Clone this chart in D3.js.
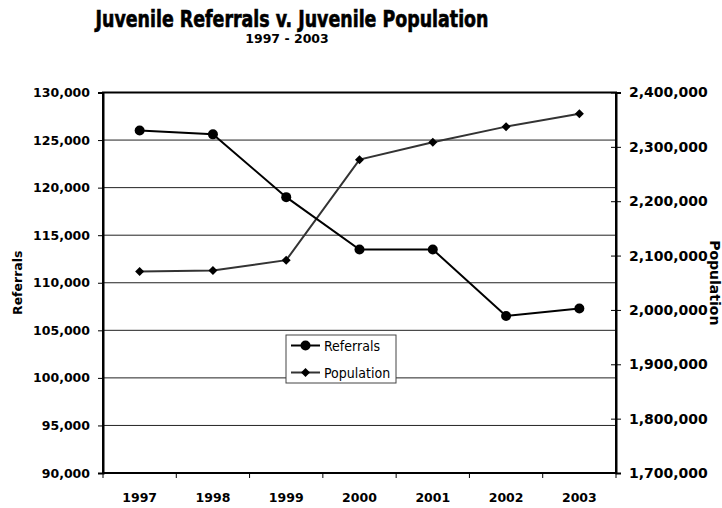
<!DOCTYPE html>
<html>
<head>
<meta charset="utf-8">
<script src="https://cdn.jsdelivr.net/npm/d3@7"></script>
<style>
  html, body { margin: 0; padding: 0; background: #fff; }
  svg { display: block; }
  .tick text { font-family: "DejaVu Sans", Verdana, sans-serif; font-weight: bold; fill: #000; }
</style>
</head>
<body>
<svg id="chart" width="722" height="508"></svg>
<script>
// Juvenile referrals and population, 1997-2003
const years = ["1997", "1998", "1999", "2000", "2001", "2002", "2003"];
const referrals = [126000, 125600, 119000, 113500, 113500, 106500, 107300];
const population = [2070600, 2072400, 2091500, 2276500, 2308400, 2337200, 2361100];
const referralTicks = [90000, 95000, 100000, 105000, 110000, 115000, 120000, 125000, 130000];
const populationTicks = [1700000, 1800000, 1900000, 2000000, 2100000, 2200000, 2300000, 2400000];

const svg = d3.select("#chart");
const plot = { left: 103, right: 616, top: 92.5, bottom: 473 };

const x = d3.scaleBand().domain(years).range([plot.left, plot.right]);
const xc = d => x(d) + x.bandwidth() / 2;
const yL = d3.scaleLinear().domain([90000, 130000]).range([plot.bottom, plot.top]);
const yR = d3.scaleLinear().domain([1700000, 2400000]).range([plot.bottom, plot.top]);
const fmt = d3.format(",");

const boldSans = "'DejaVu Sans', Verdana, sans-serif";
const condSans = "'DejaVu Sans Condensed', 'DejaVu Sans', sans-serif";

// Titles
svg.append("text")
  .attr("x", 292).attr("y", 27)
  .attr("text-anchor", "middle")
  .attr("textLength", 393).attr("lengthAdjust", "spacingAndGlyphs")
  .attr("stroke", "#000").attr("stroke-width", 0.6)
  .style("font-family", condSans)
  .style("font-weight", "bold").style("font-size", "22.5px")
  .text("Juvenile Referrals v. Juvenile Population");
svg.append("text")
  .attr("x", 287).attr("y", 42.5)
  .attr("text-anchor", "middle")
  .style("font-family", boldSans)
  .style("font-weight", "bold").style("font-size", "12.5px")
  .text("1997 - 2003");

// Horizontal gridlines
svg.append("g")
  .selectAll("line")
  .data(referralTicks.filter(t => t > 90000 && t < 130000))
  .join("line")
  .attr("x1", plot.left).attr("x2", plot.right)
  .attr("y1", d => yL(d)).attr("y2", d => yL(d))
  .attr("stroke", "#222").attr("stroke-width", 1);

// Plot frame
svg.append("rect")
  .attr("x", plot.left).attr("y", plot.top)
  .attr("width", plot.right - plot.left).attr("height", plot.bottom - plot.top)
  .attr("fill", "none").attr("stroke", "#000").attr("stroke-width", 2);

// Left axis
const gL = svg.append("g").attr("transform", `translate(${plot.left},0)`)
  .call(d3.axisLeft(yL).tickValues(referralTicks).tickFormat(fmt).tickSize(5).tickPadding(8));
gL.select(".domain").attr("stroke-width", 2);
gL.selectAll(".tick text").style("font-size", "12.5px");

// Right axis (ticks cross the axis line)
const gR = svg.append("g").attr("transform", `translate(${plot.right},0)`)
  .call(d3.axisRight(yR).tickValues(populationTicks).tickFormat(fmt).tickSize(5).tickPadding(8));
gR.select(".domain").attr("stroke-width", 2);
gR.selectAll(".tick line").attr("x1", -5);
gR.selectAll(".tick text").style("font-size", "14px");

// Bottom axis: labels at category centres, ticks at category boundaries
const gB = svg.append("g").attr("transform", `translate(0,${plot.bottom})`)
  .call(d3.axisBottom(x).tickSize(0).tickPadding(20));
gB.select(".domain").remove();
gB.selectAll(".tick text").style("font-size", "12.5px");
svg.append("g")
  .selectAll("line")
  .data(years.map(d => x(d)).concat([plot.right]))
  .join("line")
  .attr("x1", d => d).attr("x2", d => d)
  .attr("y1", plot.bottom).attr("y2", plot.bottom + 5)
  .attr("stroke", "#000");

// Axis titles
svg.append("text")
  .attr("transform", `translate(22,${(plot.top + plot.bottom) / 2}) rotate(-90)`)
  .attr("text-anchor", "middle")
  .style("font-family", boldSans)
  .style("font-weight", "bold").style("font-size", "12.5px")
  .text("Referrals");
svg.append("text")
  .attr("transform", `translate(710,${(plot.top + plot.bottom) / 2}) rotate(90)`)
  .attr("text-anchor", "middle")
  .style("font-family", boldSans)
  .style("font-weight", "bold").style("font-size", "14px")
  .text("Population");

// Series lines
const lineRef = d3.line().x((d, i) => xc(years[i])).y(d => yL(d));
const linePop = d3.line().x((d, i) => xc(years[i])).y(d => yR(d));
const diamondPath = "M0,-4.5L4.5,0L0,4.5L-4.5,0Z";

svg.append("path").datum(population)
  .attr("d", linePop).attr("fill", "none")
  .attr("stroke", "#333").attr("stroke-width", 2);
svg.append("g").selectAll("path")
  .data(population).join("path")
  .attr("d", diamondPath)
  .attr("transform", (d, i) => `translate(${xc(years[i])},${yR(d)})`)
  .attr("fill", "#000");

svg.append("path").datum(referrals)
  .attr("d", lineRef).attr("fill", "none")
  .attr("stroke", "#000").attr("stroke-width", 2);
svg.append("g").selectAll("circle")
  .data(referrals).join("circle")
  .attr("cx", (d, i) => xc(years[i])).attr("cy", d => yL(d))
  .attr("r", 5).attr("fill", "#000");

// Legend
const legend = svg.append("g").attr("transform", "translate(286,335)");
legend.append("rect")
  .attr("x", 0).attr("y", 0).attr("width", 110).attr("height", 48)
  .attr("fill", "#fff").attr("stroke", "#444").attr("stroke-width", 1);
const items = [
  { name: "Referrals", color: "#000", marker: "circle" },
  { name: "Population", color: "#333", marker: "diamond" }
];
items.forEach((it, i) => {
  const cy = 10.5 + i * 27;
  const g = legend.append("g").attr("transform", `translate(0,${cy})`);
  g.append("line").attr("x1", 5).attr("x2", 34).attr("y1", 0).attr("y2", 0)
    .attr("stroke", it.color).attr("stroke-width", 2);
  if (it.marker === "circle") {
    g.append("circle").attr("cx", 19.5).attr("cy", 0).attr("r", 5).attr("fill", "#000");
  } else {
    g.append("path").attr("d", diamondPath).attr("transform", "translate(19.5,0)").attr("fill", "#000");
  }
  g.append("text").attr("x", 38).attr("y", 5)
    .style("font-family", condSans)
    .style("font-size", "14px")
    .text(it.name);
});
</script>
</body>
</html>
